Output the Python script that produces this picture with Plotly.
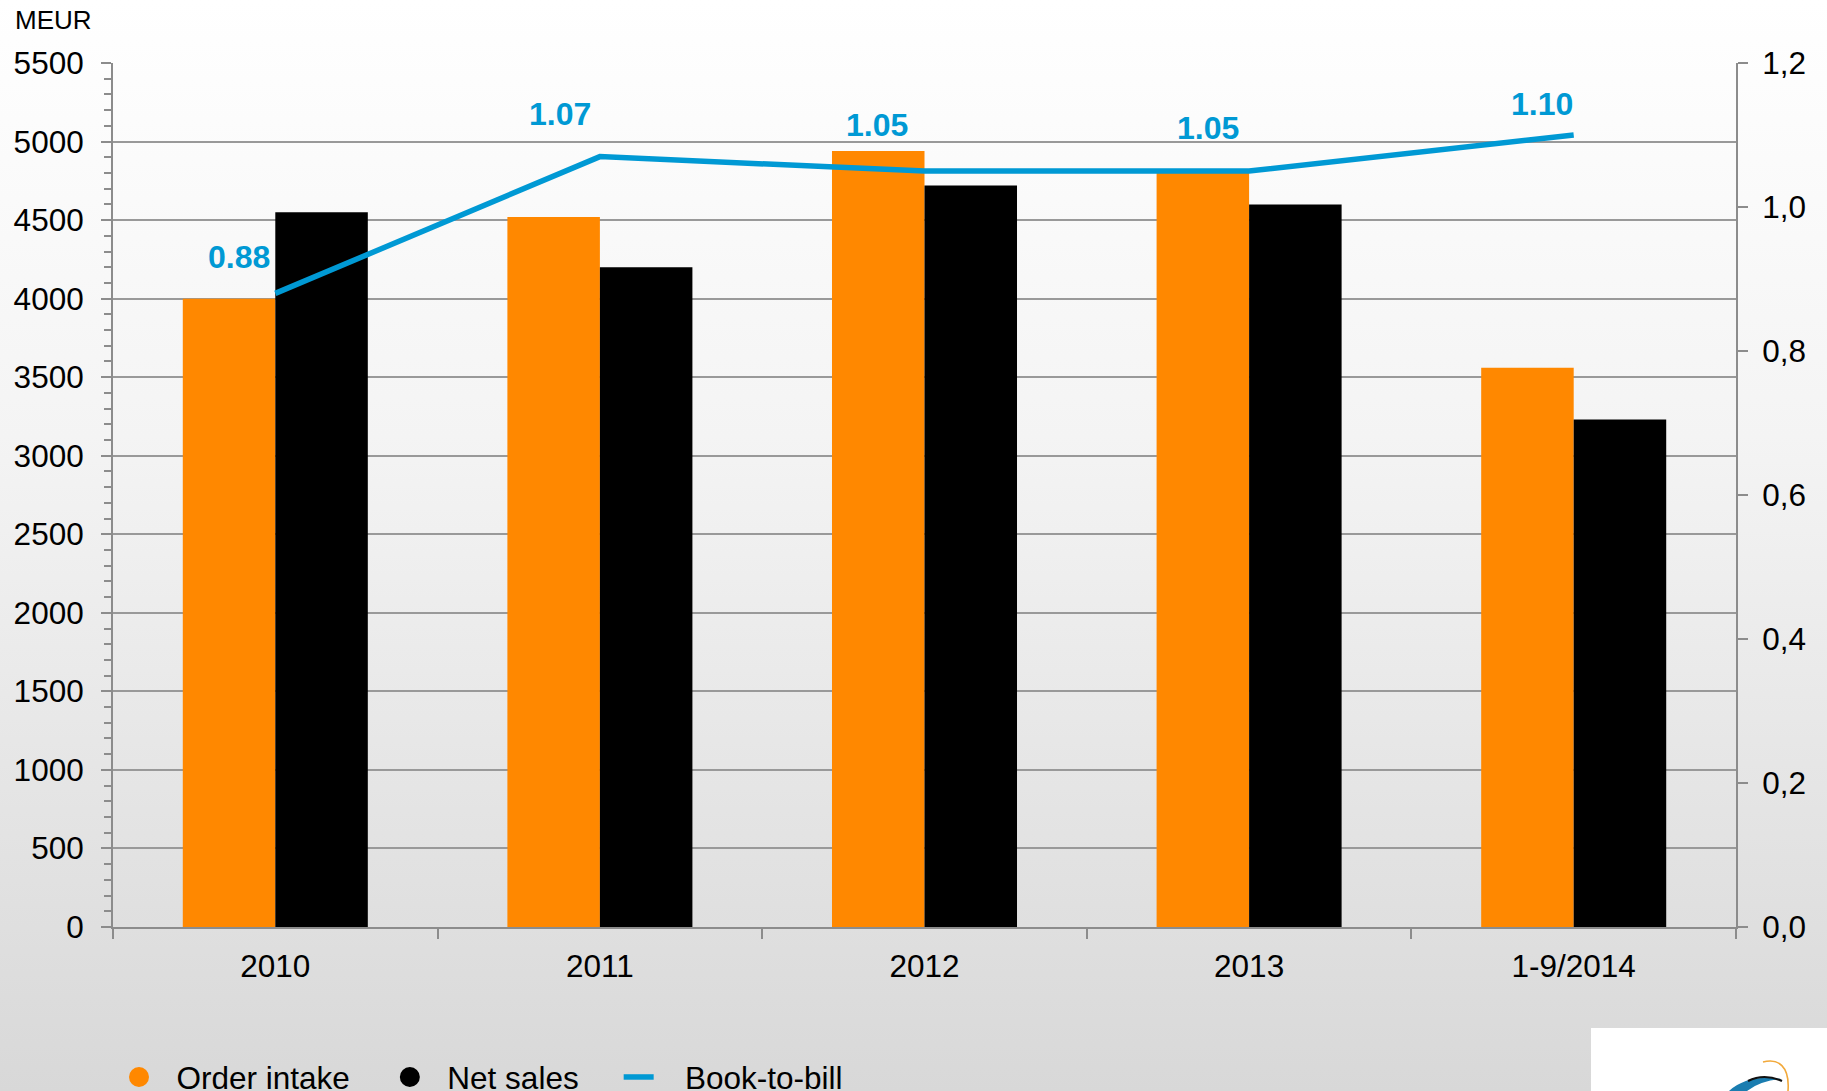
import base64
import plotly.graph_objects as go

# --- data -------------------------------------------------------------
periods = ["2010", "2011", "2012", "2013", "1-9/2014"]
order_intake = [4000, 4520, 4940, 4800, 3560]
net_sales = [4550, 4200, 4720, 4600, 3230]
book_to_bill = [0.88, 1.07, 1.05, 1.05, 1.10]
bb_labels = ["0.88", "1.07", "1.05", "1.05", "1.10"]

left_ticks = list(range(0, 5501, 500))
right_tickvals = [0.0, 0.2, 0.4, 0.6, 0.8, 1.0, 1.2]
right_ticktext = ["0,0", "0,2", "0,4", "0,6", "0,8", "1,0", "1,2"]

# --- styling ----------------------------------------------------------
W, H = 1827, 1091
M_L, M_R, M_T, M_B = 113, 91, 63, 164
PW, PH = W - M_L - M_R, H - M_T - M_B

ORANGE = "#FF8800"
BLACK = "#000000"
BLUE = "#0099D4"
AXIS_GREY = "#8C8C8C"
GRID_GREY = "#999999"
FONT = "Arial, Liberation Sans, sans-serif"
TICK_SIZE = 31.5

# label offsets (px) for the book-to-bill values
label_dx = [-36, -40, -48, -41, -32]
label_dy = [36, 43, 46, 43, 31]

# page background: soft vertical grey gradient plus the corner logo card
bg_svg = f"""<svg xmlns='http://www.w3.org/2000/svg' width='{W}' height='{H}' viewBox='0 0 {W} {H}' preserveAspectRatio='none'>
<defs><linearGradient id='g' x1='0' y1='0' x2='0' y2='1'>
<stop offset='0' stop-color='#ffffff'/>
<stop offset='0.4' stop-color='#f4f4f4'/>
<stop offset='1' stop-color='#d8d8d8'/>
</linearGradient></defs>
<rect x='0' y='0' width='{W}' height='{H}' fill='url(#g)'/>
<rect x='1591' y='1028' width='236' height='63' fill='#ffffff'/>
<path d='M1763 1062 C1778 1058 1790 1066 1788 1091' fill='none' stroke='#F2A93B' stroke-width='1.6'/>
<path d='M1729 1091 Q1748 1074 1781 1079 Q1760 1081 1747 1091 Z' fill='#1A7DB0'/>
<path d='M1748 1081 Q1764 1073 1782 1081' fill='none' stroke='#111111' stroke-width='2.2'/>
</svg>"""
bg_uri = "data:image/svg+xml;base64," + base64.b64encode(bg_svg.encode()).decode()

fig = go.Figure()

fig.add_trace(go.Bar(
    x=periods, y=order_intake, name="Order intake",
    marker=dict(color=ORANGE, line=dict(width=0)),
    showlegend=False, yaxis="y",
))
fig.add_trace(go.Bar(
    x=periods, y=net_sales, name="Net sales",
    marker=dict(color=BLACK, line=dict(width=0)),
    showlegend=False, yaxis="y",
))
fig.add_trace(go.Scatter(
    x=periods, y=book_to_bill, name="Book-to-bill",
    mode="lines", line=dict(color=BLUE, width=5.5),
    yaxis="y2", showlegend=False,
))

# legend entries (round symbols for the bar series)
NB = "\u00a0"
fig.add_trace(go.Scatter(
    x=[periods[0]], y=[None], mode="markers", name=NB * 2 + "Order intake" + NB * 4,
    marker=dict(color=ORANGE, size=16, symbol="circle",
                line=dict(color=ORANGE, width=4)),
))
fig.add_trace(go.Scatter(
    x=[periods[0]], y=[None], mode="markers", name=NB * 2 + "Net sales" + NB * 4,
    marker=dict(color=BLACK, size=16, symbol="circle",
                line=dict(color=BLACK, width=4)),
))
fig.add_trace(go.Scatter(
    x=[periods[0]], y=[None], mode="lines", name=NB * 3 + "Book-to-bill",
    line=dict(color=BLUE, width=5.5),
))

annotations = [
    dict(text="MEUR", xref="paper", yref="paper",
         x=(13 - M_L) / PW, y=(PH + M_T - 20) / PH,
         xanchor="left", yanchor="middle", showarrow=False,
         font=dict(family=FONT, size=26, color="#000000")),
]
for i, (v, t, dx, dy) in enumerate(zip(book_to_bill, bb_labels, label_dx, label_dy)):
    annotations.append(dict(
        text=f"<b>{t}</b>", x=i, y=v, xref="x", yref="y2",
        xshift=dx, yshift=dy, showarrow=False,
        xanchor="center", yanchor="middle",
        font=dict(family=FONT, size=32, color=BLUE),
    ))

fig.update_layout(
    width=W, height=H,
    margin=dict(l=M_L, r=M_R, t=M_T, b=M_B, autoexpand=False),
    paper_bgcolor="rgba(0,0,0,0)", plot_bgcolor="rgba(0,0,0,0)",
    font=dict(family=FONT, size=TICK_SIZE, color="#000000"),
    barmode="group", bargap=0.43, bargroupgap=0,
    showlegend=True,
    legend=dict(
        orientation="h", xref="container", yref="container",
        x=119 / W, y=(H - 1077) / H, xanchor="left", yanchor="middle",
        font=dict(family=FONT, size=31.5, color="#000000"),
        bgcolor="rgba(0,0,0,0)", borderwidth=0,
    ),
    xaxis=dict(
        type="category", categoryorder="array", categoryarray=periods,
        range=[-0.5, len(periods) - 0.5],
        showgrid=False, showline=True, linecolor=AXIS_GREY, linewidth=2,
        ticks="outside", tickson="boundaries", ticklen=10, tickwidth=2,
        tickcolor=AXIS_GREY, ticklabelstandoff=10, tickangle=0,
        tickfont=dict(family=FONT, size=TICK_SIZE, color="#000000"),
        zeroline=False,
    ),
    yaxis=dict(
        range=[0, 5500], tickvals=left_ticks,
        showgrid=True, gridcolor=GRID_GREY, gridwidth=2,
        showline=True, linecolor=AXIS_GREY, linewidth=2,
        ticks="outside", ticklen=10, tickwidth=2, tickcolor=AXIS_GREY,
        ticklabelstandoff=11,
        minor=dict(dtick=100, ticks="outside", ticklen=7, tickwidth=2,
                   tickcolor=AXIS_GREY, showgrid=False),
        tickfont=dict(family=FONT, size=TICK_SIZE, color="#000000"),
        zeroline=False,
    ),
    yaxis2=dict(
        overlaying="y", side="right", range=[0, 1.2],
        tickvals=right_tickvals, ticktext=right_ticktext,
        showgrid=False, showline=True, linecolor=AXIS_GREY, linewidth=2,
        ticks="outside", ticklen=10, tickwidth=2, tickcolor=AXIS_GREY,
        ticklabelstandoff=8,
        tickfont=dict(family=FONT, size=TICK_SIZE, color="#000000"),
        zeroline=False,
    ),
    annotations=annotations,
    images=[dict(
        source=bg_uri, xref="paper", yref="paper",
        x=-M_L / PW, y=(PH + M_T) / PH,
        sizex=W / PW, sizey=H / PH,
        xanchor="left", yanchor="top", sizing="stretch", layer="below",
    )],
)

fig.write_html("out.html")
